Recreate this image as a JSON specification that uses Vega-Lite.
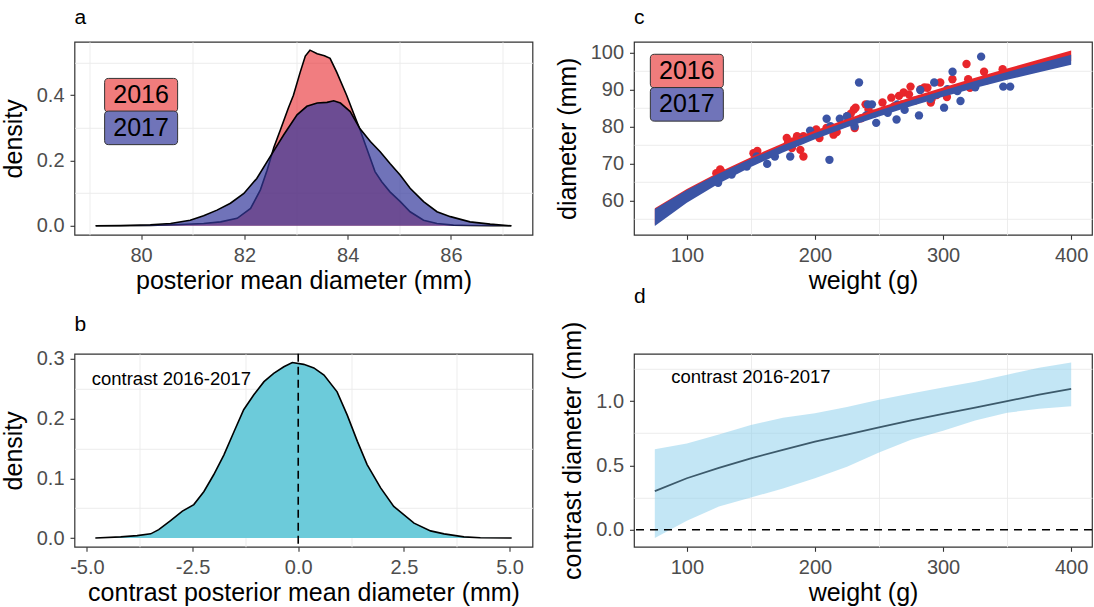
{
  "$schema": "https://vega.github.io/schema/vega-lite/v6.json",
  "background": "white",
  "padding": {"left": 0.5, "top": 5.8, "right": 0, "bottom": 0},
  "config": {
    "font": "Liberation Sans",
    "view": {"stroke": "#333333", "strokeWidth": 1.2},
    "axis": {
      "domain": false,
      "grid": true,
      "gridColor": "#EBEBEB",
      "gridWidth": 1.6,
      "tickColor": "#333333",
      "tickSize": 4.5,
      "tickWidth": 1.1,
      "labelColor": "#4D4D4D",
      "labelFont": "Liberation Sans",
      "labelFontSize": 20,
      "labelPadding": 6,
      "labelFlush": false,
      "labelOverlap": false,
      "titleFont": "Liberation Sans",
      "titleFontSize": 25,
      "titleFontWeight": "normal",
      "titleColor": "black"
    },
    "axisX": {"labelPadding": 6, "titlePadding": 3},
    "axisY": {"titlePadding": 10},
    "title": {"anchor": "start", "frame": "group", "fontSize": 21, "fontWeight": "normal", "color": "black", "baseline": "alphabetic", "offset": 14}
  },
  "datasets": {
    "density_year": [
      {"year": "2016", "diameter": 79.12, "density": 0},
      {"year": "2016", "diameter": 79.6, "density": 0.0003},
      {"year": "2016", "diameter": 80.18, "density": 0.001},
      {"year": "2016", "diameter": 80.76, "density": 0.004},
      {"year": "2016", "diameter": 81.21, "density": 0.007},
      {"year": "2016", "diameter": 81.54, "density": 0.012},
      {"year": "2016", "diameter": 81.86, "density": 0.023},
      {"year": "2016", "diameter": 82.12, "density": 0.053},
      {"year": "2016", "diameter": 82.31, "density": 0.11},
      {"year": "2016", "diameter": 82.44, "density": 0.17},
      {"year": "2016", "diameter": 82.57, "density": 0.24},
      {"year": "2016", "diameter": 82.7, "density": 0.295},
      {"year": "2016", "diameter": 82.85, "density": 0.36},
      {"year": "2016", "diameter": 82.95, "density": 0.4},
      {"year": "2016", "diameter": 83.08, "density": 0.47},
      {"year": "2016", "diameter": 83.18, "density": 0.52},
      {"year": "2016", "diameter": 83.27, "density": 0.538},
      {"year": "2016", "diameter": 83.41, "density": 0.527},
      {"year": "2016", "diameter": 83.55, "density": 0.521},
      {"year": "2016", "diameter": 83.66, "density": 0.513},
      {"year": "2016", "diameter": 83.79, "density": 0.47},
      {"year": "2016", "diameter": 83.98, "density": 0.4},
      {"year": "2016", "diameter": 84.15, "density": 0.33},
      {"year": "2016", "diameter": 84.24, "density": 0.294},
      {"year": "2016", "diameter": 84.37, "density": 0.237},
      {"year": "2016", "diameter": 84.53, "density": 0.166},
      {"year": "2016", "diameter": 84.66, "density": 0.135},
      {"year": "2016", "diameter": 84.82, "density": 0.104},
      {"year": "2016", "diameter": 85.02, "density": 0.074},
      {"year": "2016", "diameter": 85.21, "density": 0.043},
      {"year": "2016", "diameter": 85.47, "density": 0.017},
      {"year": "2016", "diameter": 85.73, "density": 0.007},
      {"year": "2016", "diameter": 86.05, "density": 0.002},
      {"year": "2016", "diameter": 86.37, "density": 0.001},
      {"year": "2016", "diameter": 86.8, "density": 0.0003},
      {"year": "2016", "diameter": 87.17, "density": 0},
      {"year": "2017", "diameter": 79.12, "density": 0},
      {"year": "2017", "diameter": 79.6, "density": 0.001},
      {"year": "2017", "diameter": 80.18, "density": 0.003},
      {"year": "2017", "diameter": 80.57, "density": 0.007},
      {"year": "2017", "diameter": 80.95, "density": 0.017},
      {"year": "2017", "diameter": 81.21, "density": 0.031},
      {"year": "2017", "diameter": 81.47, "density": 0.048},
      {"year": "2017", "diameter": 81.73, "density": 0.069},
      {"year": "2017", "diameter": 81.99, "density": 0.099},
      {"year": "2017", "diameter": 82.24, "density": 0.145},
      {"year": "2017", "diameter": 82.5, "density": 0.212},
      {"year": "2017", "diameter": 82.76, "density": 0.278},
      {"year": "2017", "diameter": 83.02, "density": 0.34},
      {"year": "2017", "diameter": 83.21, "density": 0.366},
      {"year": "2017", "diameter": 83.41, "density": 0.376},
      {"year": "2017", "diameter": 83.6, "density": 0.378},
      {"year": "2017", "diameter": 83.73, "density": 0.383},
      {"year": "2017", "diameter": 83.86, "density": 0.376},
      {"year": "2017", "diameter": 84.05, "density": 0.35},
      {"year": "2017", "diameter": 84.24, "density": 0.297},
      {"year": "2017", "diameter": 84.44, "density": 0.258},
      {"year": "2017", "diameter": 84.63, "density": 0.227},
      {"year": "2017", "diameter": 84.82, "density": 0.191},
      {"year": "2017", "diameter": 85.02, "density": 0.155},
      {"year": "2017", "diameter": 85.21, "density": 0.115},
      {"year": "2017", "diameter": 85.47, "density": 0.074},
      {"year": "2017", "diameter": 85.73, "density": 0.043},
      {"year": "2017", "diameter": 85.99, "density": 0.028},
      {"year": "2017", "diameter": 86.37, "density": 0.012},
      {"year": "2017", "diameter": 86.76, "density": 0.005},
      {"year": "2017", "diameter": 87.17, "density": 0}
    ],
    "contrast_density": [
      {"contrast": -4.8, "density": 0},
      {"contrast": -4.2, "density": 0.002},
      {"contrast": -3.81, "density": 0.004},
      {"contrast": -3.49, "density": 0.007},
      {"contrast": -3.3, "density": 0.014},
      {"contrast": -3.02, "density": 0.029},
      {"contrast": -2.74, "density": 0.045},
      {"contrast": -2.47, "density": 0.056},
      {"contrast": -2.23, "density": 0.078},
      {"contrast": -2.0, "density": 0.106},
      {"contrast": -1.76, "density": 0.139},
      {"contrast": -1.52, "density": 0.178},
      {"contrast": -1.29, "density": 0.215},
      {"contrast": -1.05, "density": 0.24},
      {"contrast": -0.81, "density": 0.262},
      {"contrast": -0.58, "density": 0.276},
      {"contrast": -0.34, "density": 0.287},
      {"contrast": -0.14, "density": 0.294},
      {"contrast": 0.13, "density": 0.291},
      {"contrast": 0.37, "density": 0.285},
      {"contrast": 0.61, "density": 0.273},
      {"contrast": 0.92, "density": 0.245},
      {"contrast": 1.16, "density": 0.206},
      {"contrast": 1.4, "density": 0.162},
      {"contrast": 1.63, "density": 0.123},
      {"contrast": 1.95, "density": 0.084},
      {"contrast": 2.26, "density": 0.053},
      {"contrast": 2.74, "density": 0.025},
      {"contrast": 3.13, "density": 0.012},
      {"contrast": 3.45, "density": 0.007},
      {"contrast": 3.92, "density": 0.002},
      {"contrast": 4.31, "density": 0.0005},
      {"contrast": 5.05, "density": 0}
    ],
    "points": [
      {"year": "2016", "weight": 123, "diameter": 67.4},
      {"year": "2016", "weight": 127, "diameter": 67.8},
      {"year": "2016", "weight": 126, "diameter": 68.4},
      {"year": "2016", "weight": 152, "diameter": 72.8},
      {"year": "2016", "weight": 155, "diameter": 73.4},
      {"year": "2016", "weight": 178, "diameter": 76.9},
      {"year": "2016", "weight": 179, "diameter": 75.6},
      {"year": "2016", "weight": 182, "diameter": 74.2},
      {"year": "2016", "weight": 183, "diameter": 76.0},
      {"year": "2016", "weight": 186, "diameter": 77.4},
      {"year": "2016", "weight": 188.6, "diameter": 73.7},
      {"year": "2016", "weight": 191, "diameter": 71.9},
      {"year": "2016", "weight": 191, "diameter": 77.4},
      {"year": "2016", "weight": 201, "diameter": 79.2},
      {"year": "2016", "weight": 203.5, "diameter": 76.9},
      {"year": "2016", "weight": 209, "diameter": 79.6},
      {"year": "2016", "weight": 214.5, "diameter": 77.8},
      {"year": "2016", "weight": 217, "diameter": 78.5},
      {"year": "2016", "weight": 225.4, "diameter": 82.8},
      {"year": "2016", "weight": 228, "diameter": 83.5},
      {"year": "2016", "weight": 230.4, "diameter": 84.6},
      {"year": "2016", "weight": 231, "diameter": 79.6},
      {"year": "2016", "weight": 231.7, "diameter": 85.1},
      {"year": "2016", "weight": 236, "diameter": 82.2},
      {"year": "2016", "weight": 239.5, "diameter": 86.0},
      {"year": "2016", "weight": 241.8, "diameter": 84.6},
      {"year": "2016", "weight": 246, "diameter": 83.5},
      {"year": "2016", "weight": 252.7, "diameter": 86.5},
      {"year": "2016", "weight": 255, "diameter": 84.5},
      {"year": "2016", "weight": 259.6, "diameter": 87.8},
      {"year": "2016", "weight": 262, "diameter": 85.5},
      {"year": "2016", "weight": 265.6, "diameter": 88.3},
      {"year": "2016", "weight": 268, "diameter": 86.0},
      {"year": "2016", "weight": 269.2, "diameter": 89.2},
      {"year": "2016", "weight": 273.4, "diameter": 88.7},
      {"year": "2016", "weight": 274.6, "diameter": 90.8},
      {"year": "2016", "weight": 278, "diameter": 87.0},
      {"year": "2016", "weight": 282.5, "diameter": 90.1},
      {"year": "2016", "weight": 285.5, "diameter": 90.6},
      {"year": "2016", "weight": 287.8, "diameter": 90.5},
      {"year": "2016", "weight": 290.4, "diameter": 86.5},
      {"year": "2016", "weight": 291, "diameter": 87.4},
      {"year": "2016", "weight": 295, "diameter": 88.5},
      {"year": "2016", "weight": 297.8, "diameter": 91.9},
      {"year": "2016", "weight": 303, "diameter": 88.0},
      {"year": "2016", "weight": 307.3, "diameter": 92.8},
      {"year": "2016", "weight": 310, "diameter": 90.0},
      {"year": "2016", "weight": 318.3, "diameter": 96.9},
      {"year": "2016", "weight": 319.6, "diameter": 92.8},
      {"year": "2016", "weight": 321, "diameter": 90.5},
      {"year": "2016", "weight": 324.3, "diameter": 91.0},
      {"year": "2016", "weight": 332, "diameter": 94.8},
      {"year": "2016", "weight": 334, "diameter": 92.5},
      {"year": "2016", "weight": 346.5, "diameter": 95.5},
      {"year": "2016", "weight": 345, "diameter": 93.5},
      {"year": "2017", "weight": 124.4, "diameter": 64.8},
      {"year": "2017", "weight": 135, "diameter": 67.0},
      {"year": "2017", "weight": 146.8, "diameter": 69.2},
      {"year": "2017", "weight": 154.5, "diameter": 71.9},
      {"year": "2017", "weight": 162.7, "diameter": 69.9},
      {"year": "2017", "weight": 168.7, "diameter": 71.9},
      {"year": "2017", "weight": 180.7, "diameter": 71.9},
      {"year": "2017", "weight": 190, "diameter": 76.5},
      {"year": "2017", "weight": 196.2, "diameter": 78.9},
      {"year": "2017", "weight": 209.1, "diameter": 82.1},
      {"year": "2017", "weight": 211.3, "diameter": 71.0},
      {"year": "2017", "weight": 212.1, "diameter": 80.1},
      {"year": "2017", "weight": 219.4, "diameter": 82.1},
      {"year": "2017", "weight": 225, "diameter": 82.8},
      {"year": "2017", "weight": 230.9, "diameter": 80.1},
      {"year": "2017", "weight": 234.4, "diameter": 91.9},
      {"year": "2017", "weight": 240, "diameter": 83.0},
      {"year": "2017", "weight": 241.3, "diameter": 86.0},
      {"year": "2017", "weight": 244.5, "diameter": 86.0},
      {"year": "2017", "weight": 247.8, "diameter": 81.0},
      {"year": "2017", "weight": 256.8, "diameter": 83.7},
      {"year": "2017", "weight": 263.7, "diameter": 81.9},
      {"year": "2017", "weight": 264.3, "diameter": 86.0},
      {"year": "2017", "weight": 270, "diameter": 84.5},
      {"year": "2017", "weight": 281.2, "diameter": 83.0},
      {"year": "2017", "weight": 282.2, "diameter": 89.9},
      {"year": "2017", "weight": 290, "diameter": 87.5},
      {"year": "2017", "weight": 293.1, "diameter": 91.9},
      {"year": "2017", "weight": 300.8, "diameter": 85.1},
      {"year": "2017", "weight": 303.4, "diameter": 90.1},
      {"year": "2017", "weight": 307.4, "diameter": 94.8},
      {"year": "2017", "weight": 311.2, "diameter": 89.6},
      {"year": "2017", "weight": 313.6, "diameter": 86.9},
      {"year": "2017", "weight": 318, "diameter": 91.0},
      {"year": "2017", "weight": 325.1, "diameter": 90.6},
      {"year": "2017", "weight": 329.7, "diameter": 98.9},
      {"year": "2017", "weight": 347, "diameter": 90.8},
      {"year": "2017", "weight": 352.4, "diameter": 90.8}
    ],
    "fits": [
      {"year": "2016", "weight": 75, "lo": 53.5, "hi": 57.9},
      {"year": "2016", "weight": 100, "lo": 59.91, "hi": 63.11},
      {"year": "2016", "weight": 125, "lo": 65.17, "hi": 67.67},
      {"year": "2016", "weight": 150, "lo": 69.73, "hi": 71.73},
      {"year": "2016", "weight": 175, "lo": 73.68, "hi": 75.48},
      {"year": "2016", "weight": 200, "lo": 77.3, "hi": 78.9},
      {"year": "2016", "weight": 225, "lo": 80.57, "hi": 82.07},
      {"year": "2016", "weight": 250, "lo": 83.58, "hi": 85.08},
      {"year": "2016", "weight": 275, "lo": 86.39, "hi": 87.89},
      {"year": "2016", "weight": 300, "lo": 88.98, "hi": 90.58},
      {"year": "2016", "weight": 325, "lo": 91.39, "hi": 93.19},
      {"year": "2016", "weight": 350, "lo": 93.68, "hi": 95.68},
      {"year": "2016", "weight": 375, "lo": 95.81, "hi": 98.11},
      {"year": "2016", "weight": 400, "lo": 97.74, "hi": 100.54},
      {"year": "2017", "weight": 75, "lo": 53.1, "hi": 57.7},
      {"year": "2017", "weight": 100, "lo": 59.41, "hi": 62.81},
      {"year": "2017", "weight": 125, "lo": 64.59, "hi": 67.29},
      {"year": "2017", "weight": 150, "lo": 69.07, "hi": 71.27},
      {"year": "2017", "weight": 175, "lo": 73.01, "hi": 74.91},
      {"year": "2017", "weight": 200, "lo": 76.56, "hi": 78.26},
      {"year": "2017", "weight": 225, "lo": 79.78, "hi": 81.38},
      {"year": "2017", "weight": 250, "lo": 82.73, "hi": 84.33},
      {"year": "2017", "weight": 275, "lo": 85.49, "hi": 87.09},
      {"year": "2017", "weight": 300, "lo": 88.03, "hi": 89.73},
      {"year": "2017", "weight": 325, "lo": 90.39, "hi": 92.29},
      {"year": "2017", "weight": 350, "lo": 92.63, "hi": 94.73},
      {"year": "2017", "weight": 375, "lo": 94.71, "hi": 97.11},
      {"year": "2017", "weight": 400, "lo": 96.69, "hi": 99.39}
    ],
    "contrast_fit": [
      {"weight": 75, "mid": 0.3, "lo": -0.065, "hi": 0.625},
      {"weight": 100, "mid": 0.4, "lo": 0.07, "hi": 0.67},
      {"weight": 125, "mid": 0.48, "lo": 0.18, "hi": 0.74},
      {"weight": 150, "mid": 0.555, "lo": 0.25, "hi": 0.815},
      {"weight": 175, "mid": 0.62, "lo": 0.32, "hi": 0.87},
      {"weight": 200, "mid": 0.685, "lo": 0.4, "hi": 0.905},
      {"weight": 225, "mid": 0.74, "lo": 0.49, "hi": 0.955},
      {"weight": 250, "mid": 0.795, "lo": 0.6, "hi": 1.01},
      {"weight": 275, "mid": 0.85, "lo": 0.7, "hi": 1.06},
      {"weight": 300, "mid": 0.9, "lo": 0.77, "hi": 1.105},
      {"weight": 325, "mid": 0.95, "lo": 0.85, "hi": 1.15},
      {"weight": 350, "mid": 1.0, "lo": 0.91, "hi": 1.205},
      {"weight": 375, "mid": 1.05, "lo": 0.94, "hi": 1.26},
      {"weight": 400, "mid": 1.095, "lo": 0.96, "hi": 1.3}
    ]
  },
  "columns": 2,
  "bounds": "flush",
  "spacing": {"row": 119, "column": 101.5},
  "concat": [
    {
      "title": "a",
      "width": 458,
      "height": 193,
      "data": {"name": "density_year"},
      "resolve": {"axis": {"x": "independent", "y": "independent"}},
      "layer": [
        {
          "transform": [{"filter": "datum.year == '2016'"}],
          "mark": {"type": "area", "fill": "#E8262B", "fillOpacity": 0.6},
          "encoding": {
            "x": {"field": "diameter", "type": "quantitative", "scale": {"domain": [78.71, 87.58], "nice": false, "zero": false},
                  "axis": {"orient": "bottom", "values": [79, 81, 83, 85, 87], "gridWidth": 0.9, "labels": false, "ticks": false, "title": null}},
            "y": {"field": "density", "type": "quantitative", "stack": null, "scale": {"domain": [-0.0276, 0.5636], "nice": false, "zero": false},
                  "axis": {"orient": "left", "values": [0.1, 0.3, 0.5], "gridWidth": 0.9, "labels": false, "ticks": false, "title": null}},
            "y2": {"datum": 0}
          }
        },
        {
          "transform": [{"filter": "datum.year == '2016'"}],
          "mark": {"type": "line", "color": "black", "strokeWidth": 1.6},
          "encoding": {
            "x": {"field": "diameter", "type": "quantitative", "axis": {"orient": "bottom", "values": [80, 82, 84, 86], "title": "posterior mean diameter (mm)"}},
            "y": {"field": "density", "type": "quantitative", "axis": {"orient": "left", "values": [0, 0.2, 0.4], "format": ".1f", "title": "density"}}
          }
        },
        {
          "transform": [{"filter": "datum.year == '2017'"}],
          "mark": {"type": "area", "fill": "#33389B", "fillOpacity": 0.7},
          "encoding": {
            "x": {"field": "diameter", "type": "quantitative", "axis": null},
            "y": {"field": "density", "type": "quantitative", "stack": null, "axis": null},
            "y2": {"datum": 0}
          }
        },
        {
          "transform": [{"filter": "datum.year == '2017'"}],
          "mark": {"type": "line", "color": "black", "strokeWidth": 1.6},
          "encoding": {
            "x": {"field": "diameter", "type": "quantitative", "axis": null},
            "y": {"field": "density", "type": "quantitative", "axis": null}
          }
        },
        {
          "data": {"values": [{}]},
          "mark": {"type": "point", "shape": "M-0.89,-0.46L0.89,-0.46Q1,-0.46 1,-0.35L1,0.35Q1,0.46 0.89,0.46L-0.89,0.46Q-1,0.46 -1,0.35L-1,-0.35Q-1,-0.46 -0.89,-0.46Z", "size": 5329, "filled": true, "fill": "#F07C7C", "fillOpacity": 1, "stroke": "#333333", "strokeWidth": 1, "opacity": 1},
          "encoding": {"x": {"datum": 80, "axis": null}, "y": {"datum": 0.4, "axis": null}}
        },
        {
          "data": {"values": [{}]},
          "mark": {"type": "text", "text": "2016", "fontSize": 25, "color": "black", "align": "center", "baseline": "middle"},
          "encoding": {"x": {"datum": 80, "axis": null}, "y": {"datum": 0.4, "axis": null}}
        },
        {
          "data": {"values": [{}]},
          "mark": {"type": "point", "shape": "M-0.89,-0.46L0.89,-0.46Q1,-0.46 1,-0.35L1,0.35Q1,0.46 0.89,0.46L-0.89,0.46Q-1,0.46 -1,0.35L-1,-0.35Q-1,-0.46 -0.89,-0.46Z", "size": 5329, "filled": true, "fill": "#7074B9", "fillOpacity": 1, "stroke": "#333333", "strokeWidth": 1, "opacity": 1},
          "encoding": {"x": {"datum": 80, "axis": null}, "y": {"datum": 0.3, "axis": null}}
        },
        {
          "data": {"values": [{}]},
          "mark": {"type": "text", "text": "2017", "fontSize": 25, "color": "black", "align": "center", "baseline": "middle"},
          "encoding": {"x": {"datum": 80, "axis": null}, "y": {"datum": 0.3, "axis": null}}
        }
      ]
    },
    {
      "title": "c",
      "width": 458,
      "height": 193,
      "resolve": {"axis": {"x": "independent", "y": "independent"}},
      "layer": [
        {
          "data": {"name": "points"},
          "mark": {"type": "circle", "size": 70, "opacity": 1},
          "encoding": {
            "x": {"field": "weight", "type": "quantitative", "scale": {"domain": [58.75, 416.25], "nice": false, "zero": false},
                  "axis": {"orient": "bottom", "values": [150, 250, 350], "gridWidth": 0.9, "labels": false, "ticks": false, "title": null}},
            "y": {"field": "diameter", "type": "quantitative", "scale": {"domain": [50.73, 102.91], "nice": false, "zero": false},
                  "axis": {"orient": "left", "values": [55, 65, 75, 85, 95], "gridWidth": 0.9, "labels": false, "ticks": false, "title": null}},
            "color": {"field": "year", "type": "nominal", "scale": {"domain": ["2016", "2017"], "range": ["#E8262B", "#3B54A5"]}, "legend": null}
          }
        },
        {
          "data": {"name": "fits"},
          "transform": [{"filter": "datum.year == '2016'"}],
          "mark": {"type": "area", "fill": "#E8262B", "fillOpacity": 1},
          "encoding": {
            "x": {"field": "weight", "type": "quantitative", "axis": {"orient": "bottom", "values": [100, 200, 300, 400], "title": "weight (g)"}},
            "y": {"field": "lo", "type": "quantitative", "axis": {"orient": "left", "values": [60, 70, 80, 90, 100], "title": "diameter (mm)"}},
            "y2": {"field": "hi"}
          }
        },
        {
          "data": {"name": "fits"},
          "transform": [{"filter": "datum.year == '2017'"}],
          "mark": {"type": "area", "fill": "#3B54A5", "fillOpacity": 1},
          "encoding": {
            "x": {"field": "weight", "type": "quantitative", "axis": null},
            "y": {"field": "lo", "type": "quantitative", "axis": null},
            "y2": {"field": "hi"}
          }
        },
        {
          "data": {"values": [{}]},
          "mark": {"type": "point", "shape": "M-0.89,-0.46L0.89,-0.46Q1,-0.46 1,-0.35L1,0.35Q1,0.46 0.89,0.46L-0.89,0.46Q-1,0.46 -1,0.35L-1,-0.35Q-1,-0.46 -0.89,-0.46Z", "size": 5329, "filled": true, "fill": "#F07C7C", "fillOpacity": 1, "stroke": "#333333", "strokeWidth": 1, "opacity": 1},
          "encoding": {"x": {"datum": 100, "axis": null}, "y": {"datum": 95, "axis": null}}
        },
        {
          "data": {"values": [{}]},
          "mark": {"type": "text", "text": "2016", "fontSize": 25, "color": "black", "align": "center", "baseline": "middle"},
          "encoding": {"x": {"datum": 100, "axis": null}, "y": {"datum": 95, "axis": null}}
        },
        {
          "data": {"values": [{}]},
          "mark": {"type": "point", "shape": "M-0.89,-0.46L0.89,-0.46Q1,-0.46 1,-0.35L1,0.35Q1,0.46 0.89,0.46L-0.89,0.46Q-1,0.46 -1,0.35L-1,-0.35Q-1,-0.46 -0.89,-0.46Z", "size": 5329, "filled": true, "fill": "#7074B9", "fillOpacity": 1, "stroke": "#333333", "strokeWidth": 1, "opacity": 1},
          "encoding": {"x": {"datum": 100, "axis": null}, "y": {"datum": 86, "axis": null}}
        },
        {
          "data": {"values": [{}]},
          "mark": {"type": "text", "text": "2017", "fontSize": 25, "color": "black", "align": "center", "baseline": "middle"},
          "encoding": {"x": {"datum": 100, "axis": null}, "y": {"datum": 86, "axis": null}}
        }
      ]
    },
    {
      "title": "b",
      "width": 458,
      "height": 193,
      "data": {"name": "contrast_density"},
      "resolve": {"axis": {"x": "independent", "y": "independent"}},
      "layer": [
        {
          "mark": {"type": "area", "fill": "#6CCBDA", "fillOpacity": 1},
          "encoding": {
            "x": {"field": "contrast", "type": "quantitative", "scale": {"domain": [-5.2925, 5.5425], "nice": false, "zero": false},
                  "axis": {"orient": "bottom", "values": [-3.75, -1.25, 1.25, 3.75], "gridWidth": 0.9, "labels": false, "ticks": false, "title": null}},
            "y": {"field": "density", "type": "quantitative", "stack": null, "scale": {"domain": [-0.0147, 0.3087], "nice": false, "zero": false},
                  "axis": {"orient": "left", "values": [0.05, 0.15, 0.25], "gridWidth": 0.9, "labels": false, "ticks": false, "title": null}},
            "y2": {"datum": 0}
          }
        },
        {
          "mark": {"type": "line", "color": "black", "strokeWidth": 1.6},
          "encoding": {
            "x": {"field": "contrast", "type": "quantitative",
                  "axis": {"orient": "bottom", "values": [-5, -2.5, 0, 2.5, 5], "labelExpr": "datum.value < 0 ? '-' + format(-datum.value, '.1f') : format(datum.value, '.1f')", "title": "contrast posterior mean diameter (mm)"}},
            "y": {"field": "density", "type": "quantitative", "axis": {"orient": "left", "values": [0, 0.1, 0.2, 0.3], "format": ".1f", "title": "density"}}
          }
        },
        {
          "data": {"values": [{}]},
          "mark": {"type": "rule", "color": "black", "strokeWidth": 1.6, "strokeDash": [8, 5]},
          "encoding": {"x": {"datum": 0, "axis": null}}
        },
        {
          "data": {"values": [{}]},
          "mark": {"type": "text", "text": "contrast 2016-2017", "fontSize": 18.5, "color": "black", "align": "center", "baseline": "middle"},
          "encoding": {"x": {"datum": -3, "axis": null}, "y": {"datum": 0.267, "axis": null}}
        }
      ]
    },
    {
      "title": "d",
      "width": 458,
      "height": 193,
      "data": {"name": "contrast_fit"},
      "resolve": {"axis": {"x": "independent", "y": "independent"}},
      "layer": [
        {
          "mark": {"type": "area", "fill": "#87CEEB", "fillOpacity": 0.5},
          "encoding": {
            "x": {"field": "weight", "type": "quantitative", "scale": {"domain": [58.75, 416.25], "nice": false, "zero": false},
                  "axis": {"orient": "bottom", "values": [150, 250, 350], "gridWidth": 0.9, "labels": false, "ticks": false, "title": null}},
            "y": {"field": "lo", "type": "quantitative", "scale": {"domain": [-0.133, 1.368], "nice": false, "zero": false},
                  "axis": {"orient": "left", "values": [0.25, 0.75, 1.25], "gridWidth": 0.9, "labels": false, "ticks": false, "title": null}},
            "y2": {"field": "hi"}
          }
        },
        {
          "mark": {"type": "line", "color": "#3C5A6B", "strokeWidth": 1.8},
          "encoding": {
            "x": {"field": "weight", "type": "quantitative", "axis": {"orient": "bottom", "values": [100, 200, 300, 400], "title": "weight (g)"}},
            "y": {"field": "mid", "type": "quantitative", "axis": {"orient": "left", "values": [0, 0.5, 1], "format": ".1f", "title": "contrast diameter (mm)"}}
          }
        },
        {
          "data": {"values": [{}]},
          "mark": {"type": "rule", "color": "black", "strokeWidth": 1.6, "strokeDash": [8, 6]},
          "encoding": {"y": {"datum": 0, "axis": null}}
        },
        {
          "data": {"values": [{}]},
          "mark": {"type": "text", "text": "contrast 2016-2017", "fontSize": 18.5, "color": "black", "align": "center", "baseline": "middle"},
          "encoding": {"x": {"datum": 150, "axis": null}, "y": {"datum": 1.19, "axis": null}}
        }
      ]
    }
  ]
}
